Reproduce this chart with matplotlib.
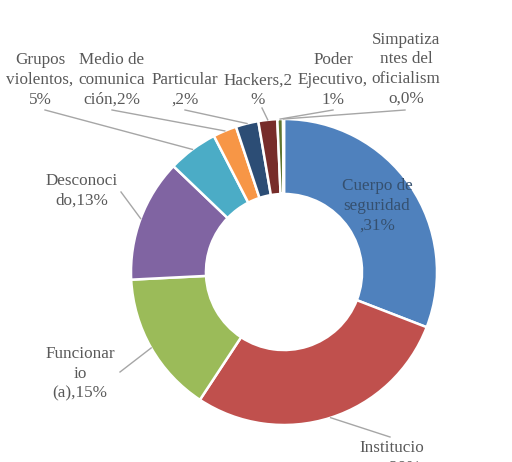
import matplotlib
matplotlib.use("Agg")
import matplotlib.pyplot as plt
import numpy as np

categories = ["Cuerpo de seguridad", "Instituciones", "Funcionario (a)", "Desconocido",
              "Grupos violentos", "Medio de comunicación", "Particular", "Hackers",
              "Poder Ejecutivo", "Simpatizantes del oficialismo"]
values = [31.0, 28.5, 15.0, 13.0, 5.3, 2.5, 2.4, 2.0, 0.6, 0.1]
label_texts = ["Cuerpo de\nseguridad\n,31%", "Institucio\nnes,29%", "Funcionar\nio\n(a),15%",
               "Desconoci\ndo,13%", "Grupos\nviolentos,\n5%", "Medio de\ncomunica\nción,2%",
               "Particular\n,2%", "Hackers,2\n%", "Poder\nEjecutivo,\n1%",
               "Simpatiza\nntes del\noficialism\no,0%"]
colors = ["#4F81BD", "#C0504D", "#9BBB59", "#8064A2", "#4BACC6", "#F79646",
          "#2C4D75", "#772C2A", "#5F7530", "#4D3B62"]

W, H = 512, 462
fig = plt.figure(figsize=(W / 100, H / 100), dpi=100)
ax = fig.add_axes([0, 0, 1, 1])

cx, cy, R = 284, H - 272, 153
wedges, _ = ax.pie(values, colors=colors, startangle=90, counterclock=False,
                   radius=R, center=(cx, cy), frame=True,
                   wedgeprops=dict(width=R * 0.49, edgecolor="white", linewidth=1.8))
ax.set_xlim(0, W)
ax.set_ylim(0, H)
ax.set_aspect("equal")
ax.axis("off")

# label anchor positions (pixel coords from top) and leader-line ends
label_pos = {
    0: (377, 206, None),
    1: (392, 458, (390, 437)),
    2: (80, 374, (120, 372)),
    3: (82, 191, (121, 192)),
    4: (40, 80, (45, 110)),
    5: (112, 80, (112, 110)),
    6: (185, 90, (185, 110)),
    7: (258, 90, (262, 108)),
    8: (333, 80, (333, 110)),
    9: (406, 69, (405, 110)),
}
font = dict(family="Liberation Serif", size=12.3, color="#595959")
for i, w in enumerate(wedges):
    x, y, lend = label_pos[i]
    col = "#35506F" if i == 0 else "#595959"
    ax.text(x, H - y, label_texts[i], ha="center", va="center", linespacing=1.3,
            fontdict=dict(font, color=col), clip_on=False)
    if lend is not None:
        ang = np.deg2rad((w.theta1 + w.theta2) / 2)
        sx, sy = cx + R * np.cos(ang), cy + R * np.sin(ang)
        ax.plot([sx, lend[0]], [sy, H - lend[1]], color="#A6A6A6", lw=1)

fig.savefig("out.png", dpi=100)
